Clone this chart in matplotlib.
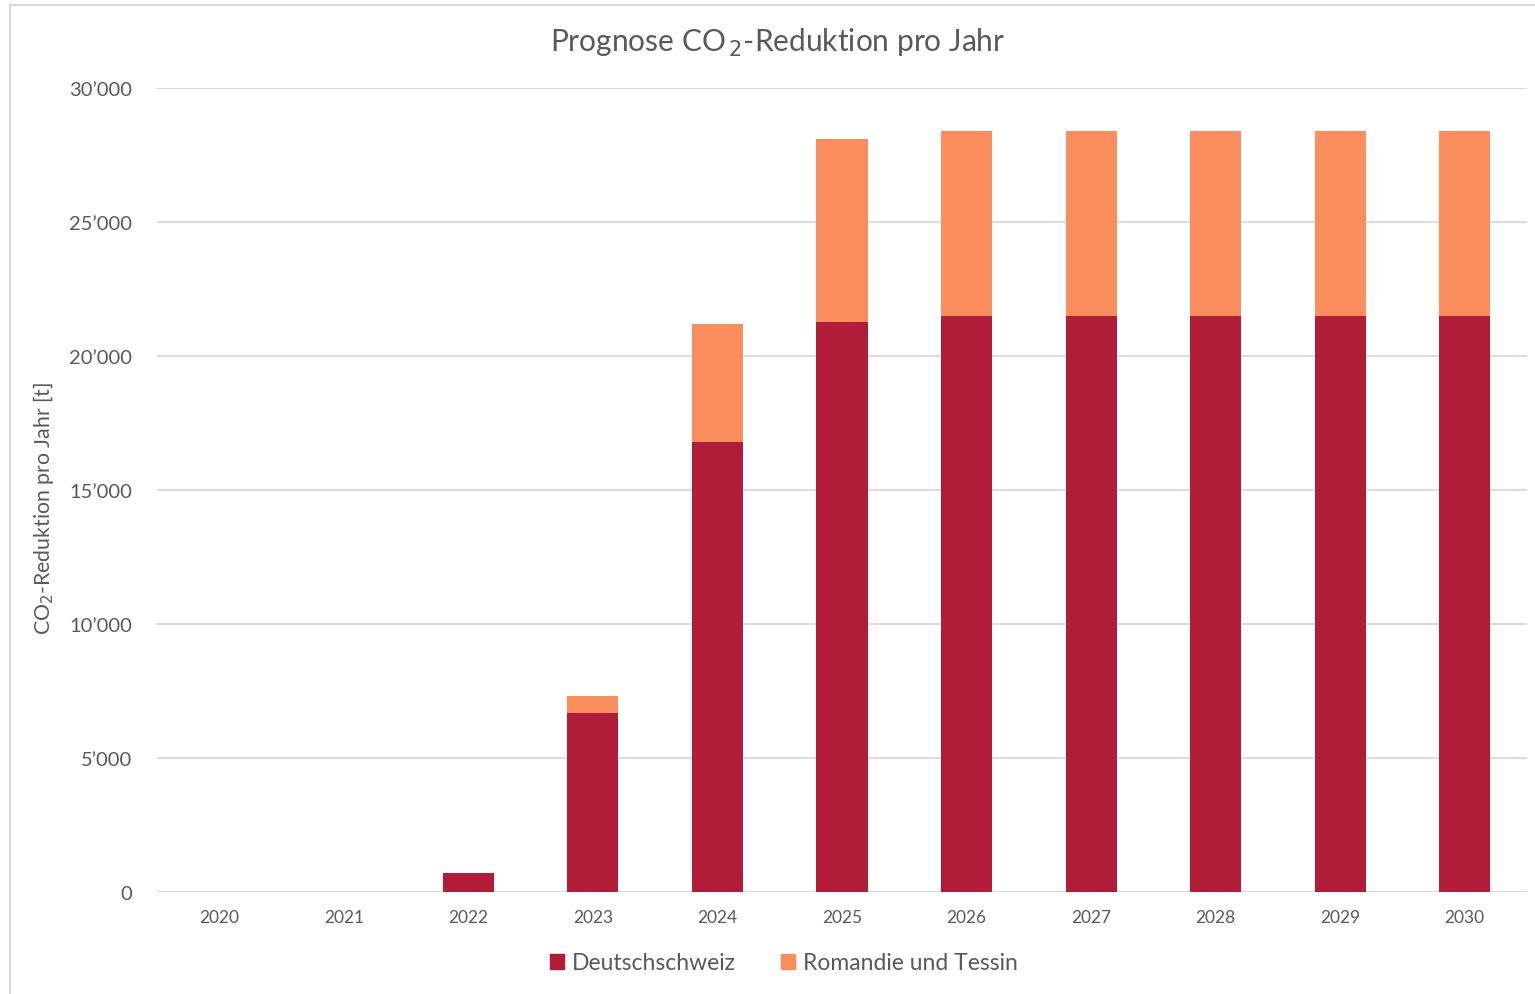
import matplotlib
matplotlib.use("Agg")
import matplotlib.pyplot as plt
from matplotlib.lines import Line2D
from matplotlib.patches import Patch
import numpy as np

years = ["2020", "2021", "2022", "2023", "2024", "2025", "2026", "2027", "2028", "2029", "2030"]
deutschschweiz = [0, 0, 710, 6680, 16800, 21280, 21500, 21500, 21500, 21500, 21500]
romandie_tessin = [0, 0, 0, 640, 4400, 6820, 6900, 6900, 6900, 6900, 6900]
yticks = [0, 5000, 10000, 15000, 20000, 25000, 30000]
ytick_labels = ["0", "5\u2019000", "10\u2019000", "15\u2019000", "20\u2019000", "25\u2019000", "30\u2019000"]

plt.rcParams['font.family'] = ['Lato', 'DejaVu Sans']
txt = "#595959"
c_dark = "#B11C39"
c_orange = "#F98D5D"

fig = plt.figure(figsize=(15.35, 9.95), dpi=100)
ax = fig.add_axes([157/1535, 1-893/995, (1527-157)/1535, (893-89)/995])

x = np.arange(len(years))
w = 0.41
ax.bar(x, deutschschweiz, width=w, color=c_dark, label="Deutschschweiz", zorder=3)
ax.bar(x, romandie_tessin, width=w, bottom=deutschschweiz, color=c_orange, label="Romandie und Tessin", zorder=3)

ax.set_xlim(-0.5, len(years) - 0.5)
ax.set_ylim(0, 30000)
ax.set_yticks(yticks)
ax.set_yticklabels(ytick_labels, fontsize=14.5, color=txt)
ax.set_xticks(x)
ax.set_xticklabels(years, fontsize=12.5, color=txt)
ax.tick_params(axis='both', length=0)
ax.tick_params(axis='y', pad=18)
ax.tick_params(axis='x', pad=12)
ax.grid(axis='y', color="#d9d9d9", linewidth=1.3, zorder=0)
for s in ax.spines.values():
    s.set_visible(False)
ax.axhline(0, color="#d9d9d9", linewidth=1.3, zorder=1)

ax.set_ylabel("CO$_2$-Reduktion pro Jahr [t]", fontsize=15.3, color=txt)
ax.yaxis.set_label_coords((56 - 157) / 1370, (893 - 509) / 804)
fig.text(778/1535, 1-43/995, "Prognose CO$_{\\,2}$-Reduktion pro Jahr", ha='center', va='center',
         fontsize=21.5, color=txt)

handles = [Patch(color=c_dark), Patch(color=c_orange)]
fig.legend(handles, ["Deutschschweiz", "Romandie und Tessin"], loc='center',
           bbox_to_anchor=(784/1535, 1-964/995), ncol=2, frameon=False, fontsize=16.5,
           labelcolor=txt, handlelength=0.6, handleheight=0.6, handletextpad=0.35,
           columnspacing=2.0)

# chart border (left and top visible)
fig.add_artist(Line2D([10/1535, 10/1535], [0, 1-6/995], color="#d9d9d9", lw=1.5, transform=fig.transFigure))
fig.add_artist(Line2D([10/1535, 1], [1-6/995, 1-6/995], color="#d9d9d9", lw=1.5, transform=fig.transFigure))

fig.savefig("out.png", dpi=100)
